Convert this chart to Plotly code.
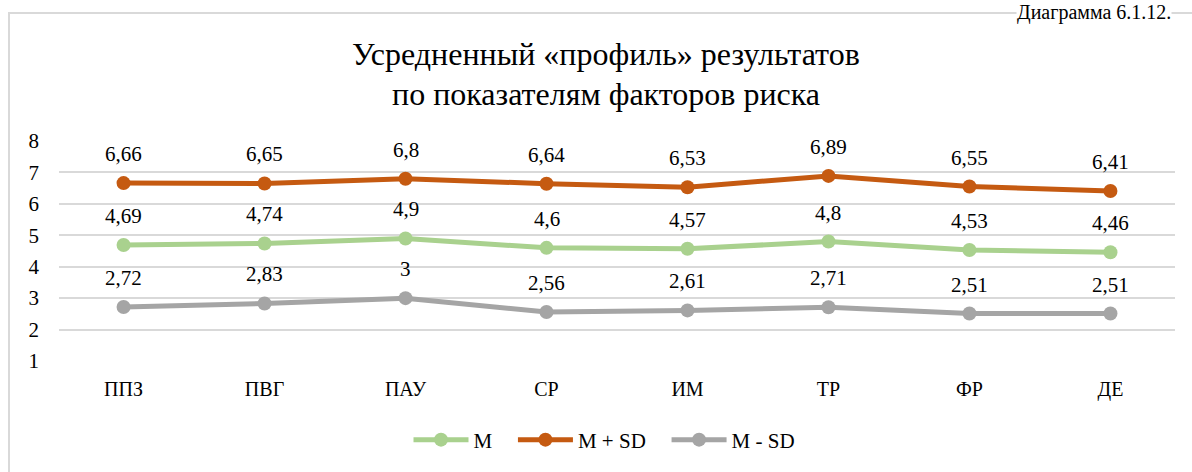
import plotly.graph_objects as go

categories = ["ППЗ", "ПВГ", "ПАУ", "СР", "ИМ", "ТР", "ФР", "ДЕ"]
m_vals = [4.69, 4.74, 4.9, 4.6, 4.57, 4.8, 4.53, 4.46]
m_plus_sd = [6.66, 6.65, 6.8, 6.64, 6.53, 6.89, 6.55, 6.41]
m_minus_sd = [2.72, 2.83, 3, 2.56, 2.61, 2.71, 2.51, 2.51]
y_ticks = [1, 2, 3, 4, 5, 6, 7, 8]

FONT = "Liberation Serif"

# plot area in page pixels: x 59..1175, y 141..361
def px(x):
    return (x - 59) / 1116

def py(y):
    return (361 - y) / 220


def fmt(v):
    """decimal comma like the original"""
    return ("%g" % v).replace(".", ",")


series = [
    ("M", m_vals, "#A9D18E"),
    ("M + SD", m_plus_sd, "#C55A11"),
    ("M - SD", m_minus_sd, "#A5A5A5"),
]

fig = go.Figure()
labels = []
for name, vals, col in series:
    fig.add_trace(go.Scatter(
        x=categories, y=vals, name=name + "\u00a0\u00a0\u00a0", mode="lines+markers",
        line=dict(color=col, width=5),
        marker=dict(color=col, size=14),
        cliponaxis=False,
    ))
    for c, v in zip(categories, vals):
        labels.append(dict(x=c, y=v, text=fmt(v), showarrow=False, yshift=29,
                           font=dict(family=FONT, size=21, color="#000000")))

fig.update_layout(
    width=1192, height=472,
    margin=dict(l=59, r=17, t=141, b=111),
    plot_bgcolor="white", paper_bgcolor="white",
    font=dict(family=FONT, size=20, color="#000000"),
    showlegend=True,
    legend=dict(orientation="h", x=px(612), xanchor="center", y=py(440), yanchor="middle",
                font=dict(family=FONT, size=21), tracegroupgap=0, itemwidth=55),
    xaxis=dict(showgrid=False, showline=False, ticks="", ticklabelstandoff=14,
               tickfont=dict(family=FONT, size=20)),
    yaxis=dict(range=[1, 8], tickvals=y_ticks, showgrid=True, gridcolor="#D9D9D9",
               gridwidth=1.5, zeroline=False, showline=False, ticks="",
               ticklabelstandoff=19, tickfont=dict(family=FONT, size=21)),
    annotations=labels + [
        dict(text="Усредненный «профиль» результатов", xref="paper", yref="paper",
             x=px(606), y=py(54), xanchor="center", yanchor="middle",
             showarrow=False, font=dict(family=FONT, size=32)),
        dict(text="по показателям факторов риска", xref="paper", yref="paper",
             x=px(606), y=py(94), xanchor="center", yanchor="middle",
             showarrow=False, font=dict(family=FONT, size=32)),
        dict(text="Диаграмма 6.1.12.", xref="paper", yref="paper",
             x=px(1172), y=py(0), xanchor="right", yanchor="top",
             showarrow=False, bgcolor="white", borderpad=0,
             font=dict(family=FONT, size=20)),
    ],
    shapes=[
        dict(type="rect", xref="paper", yref="paper",
             x0=px(9), x1=px(1260), y0=py(520), y1=py(13),
             line=dict(color="#D9D9D9", width=2), fillcolor="rgba(0,0,0,0)", layer="below"),
    ],
)

fig.write_html("out.html", config={"displayModeBar": False},
               post_script="document.body.style.margin='0px';")
